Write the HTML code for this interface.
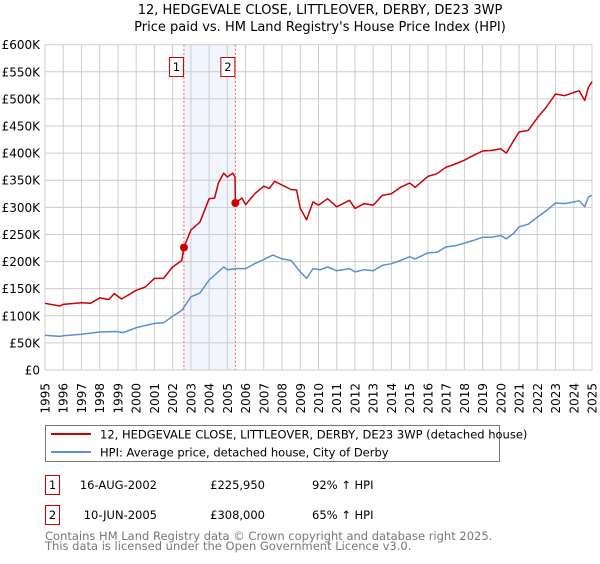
<!DOCTYPE html>
<html><head><meta charset="utf-8"><style>
body{margin:0;background:#fff;font-family:"DejaVu Sans","Liberation Sans",sans-serif}
svg text{font-family:"DejaVu Sans","Liberation Sans",sans-serif}
</style></head><body>
<svg id="c" width="600" height="560" xmlns="http://www.w3.org/2000/svg">
<text x="320" y="14" text-anchor="middle" font-size="13">12, HEDGEVALE CLOSE, LITTLEOVER, DERBY, DE23 3WP</text>
<text x="320" y="31" text-anchor="middle" font-size="13">Price paid vs. HM Land Registry's House Price Index (HPI)</text>
<g id="grid"></g>
<g id="marks"></g>
<g id="axes"></g>
<rect x="45.5" y="425.5" width="454" height="36" fill="#fff" stroke="#777"/>
<line x1="51" y1="434" x2="91" y2="434" stroke="#cc0000" stroke-width="2"/>
<text x="100" y="438.5" font-size="11.5">12, HEDGEVALE CLOSE, LITTLEOVER, DERBY, DE23 3WP (detached house)</text>
<line x1="51" y1="452" x2="91" y2="452" stroke="#5b8fd0" stroke-width="2"/>
<text x="100" y="456.5" font-size="11.5">HPI: Average price, detached house, City of Derby</text>
<g font-size="11.5">
<rect x="45.5" y="475.5" width="14" height="19" fill="#fff" stroke="#cc0000"/>
<text x="52.5" y="489" text-anchor="middle">1</text>
<text x="157" y="489" text-anchor="end">16-AUG-2002</text>
<text x="265" y="489" text-anchor="end">£225,950</text>
<text x="312" y="489">92% ↑ HPI</text>
<rect x="45.5" y="505.5" width="14" height="19" fill="#fff" stroke="#cc0000"/>
<text x="52.5" y="519" text-anchor="middle">2</text>
<text x="157" y="519" text-anchor="end">10-JUN-2005</text>
<text x="265" y="519" text-anchor="end">£308,000</text>
<text x="312" y="519">65% ↑ HPI</text>
</g>
<text x="45" y="540" font-size="11.5" fill="#777">Contains HM Land Registry data © Crown copyright and database right 2025.</text>
<text x="45" y="550" font-size="11.5" fill="#777">This data is licensed under the Open Government Licence v3.0.</text>
</svg>
<script>
const hpiDates=[1995,1995.8,1996,1997,1998,1998.9,1999.3,2000,2001,2001.5,2002,2002.5,2003,2003.5,2004,2004.5,2004.8,2005,2005.5,2006,2006.5,2007,2007.5,2008,2008.5,2009,2009.35,2009.7,2010.1,2010.5,2011,2011.7,2012,2012.5,2013,2013.5,2014,2014.5,2015,2015.3,2016,2016.5,2017,2017.5,2018,2018.5,2019,2019.5,2020,2020.3,2020.7,2021,2021.5,2022,2022.5,2023,2023.5,2024,2024.3,2024.6,2024.8,2025];
const hpiValues=[64,62,63,66,70,71,69,78,86,87,99,110,135,142,166,181,190,185,187,187,196,204,212,205,202,181,169,187,185,190,183,187,181,185,183,193,196,202,209,205,216,217,227,229,234,239,245,245,248,242,252,264,269,282,294,308,307,310,312,301,319,322];
const propDates=[1995,1995.8,1996,1997,1997.5,1998,1998.5,1998.8,1999.2,2000,2000.5,2001,2001.5,2002,2002.5,2002.62,2003,2003.5,2004,2004.3,2004.5,2004.8,2005,2005.3,2005.42,2005.44,2005.8,2006,2006.5,2007,2007.3,2007.6,2008,2008.5,2008.8,2009,2009.35,2009.7,2010,2010.5,2011,2011.7,2012,2012.5,2013,2013.5,2014,2014.5,2015,2015.3,2016,2016.5,2017,2017.5,2018,2018.5,2019,2019.5,2020,2020.3,2020.7,2021,2021.5,2022,2022.5,2023,2023.5,2024,2024.3,2024.6,2024.8,2025];
const propValues=[123,118,121,124,123,133,130,141,131,147,153,169,169,190,202,226,258,273,316,317,344,363,356,363,356,308,317,305,325,339,335,348,341,333,332,298,277,310,304,316,301,313,298,307,304,322,325,337,345,337,357,362,374,380,387,396,404,405,408,400,423,439,442,465,485,509,506,512,515,497,521,532];
const saleDates=[2002.62,2005.44];
const saleValues=[225.95,308];
const saleLabels=["1","2"];
const yTicks=[0,50,100,150,200,250,300,350,400,450,500,550,600];
const yTickLabels=["£0","£50K","£100K","£150K","£200K","£250K","£300K","£350K","£400K","£450K","£500K","£550K","£600K"];
const xTicks=[1995,1996,1997,1998,1999,2000,2001,2002,2003,2004,2005,2006,2007,2008,2009,2010,2011,2012,2013,2014,2015,2016,2017,2018,2019,2020,2021,2022,2023,2024,2025];

const NS="http://www.w3.org/2000/svg";
const X0=45,X1=592,Y0=370,Y1=44.7;
const xs=d=>X0+(d-1995)/30*(X1-X0);
const ys=v=>Y0-v/600*(Y0-Y1);
function mk(tag,attrs,parent){const e=document.createElementNS(NS,tag);for(const k in attrs)e.setAttribute(k,attrs[k]);parent.appendChild(e);return e;}
const grid=document.getElementById('grid'),marks=document.getElementById('marks'),axes=document.getElementById('axes');
const sh=mk('rect',{x:xs(saleDates[0]),y:Y1,width:xs(saleDates[1])-xs(saleDates[0]),height:Y0-Y1,fill:'#eef3fc',opacity:0.8},grid);


yTicks.forEach((t,i)=>{
  const l=mk('line',{x1:X0,x2:X1,y1:ys(t),y2:ys(t),stroke:'#ccc','stroke-width':1},grid);
  
  
  const tx=mk('text',{x:40,y:ys(t)+4.5,'text-anchor':'end','font-size':12},axes);
  tx.textContent=yTickLabels[i];
  
  
});
xTicks.forEach(t=>{
  const l=mk('line',{x1:xs(t),x2:xs(t),y1:Y1,y2:Y0,stroke:'#ccc','stroke-width':1},grid);
  
  
  const tx=mk('text',{x:0,y:0,'text-anchor':'end','font-size':12,transform:`translate(${xs(t)+4.5},383) rotate(-90)`},axes);
  tx.textContent=t;
  
  
});
saleDates.forEach((d,i)=>{
  const l=mk('line',{x1:xs(d),x2:xs(d),y1:Y1,y2:Y0,stroke:'#f06060','stroke-width':1,'stroke-dasharray':'2,2'},grid);
  
  
  const r=mk('rect',{x:xs(d)-14.5,y:57.5,width:14,height:19,fill:'#fff',stroke:'#cc0000'},axes);
  
  
  const tx=mk('text',{x:xs(d)-7.5,y:71,'text-anchor':'middle','font-size':11.5},axes);
  tx.textContent=saleLabels[i];
  
  
});
const pts=(ds,vs)=>ds.map((d,i)=>xs(d).toFixed(1)+','+ys(vs[i]).toFixed(1)).join(' ');
const hl=mk('polyline',{points:pts(hpiDates,hpiValues),fill:'none',stroke:'#5b8fd0','stroke-width':1.5,'stroke-linejoin':'round'},marks);


const pl=mk('polyline',{points:pts(propDates,propValues),fill:'none',stroke:'#cc0000','stroke-width':1.5,'stroke-linejoin':'round'},marks);


saleDates.forEach((d,i)=>{
  const c=mk('circle',{cx:xs(d),cy:ys(saleValues[i]),r:4,fill:'#cc0000'},marks);
  
  
});
</script>
</body></html>
